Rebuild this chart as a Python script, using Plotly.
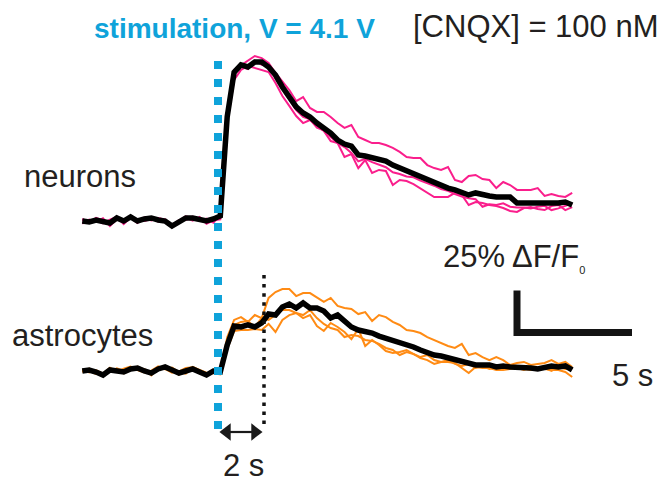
import numpy as np
import plotly.graph_objects as go

# ---- sampling grid (s), stimulation at t = 0 ----
T0 = -5.9
DT = 0.3

# ---- neurons: dF/F0 (%) ----
neuron_a = [0.5, -1.0, 1.8, 0.3, -2.0, 2.6, -0.8, 3.0, 0.6, 1.5, 2.4, -0.4, 1.0, -2.5, 0.2, 2.8, 1.6, 0.8, -0.6, 2.0,
            2.0, 64.0, 90.0, 92.9, 95.8, 98.2, 97.0, 94.0, 88.1, 82.7, 78.0, 71.4, 73.8, 67.3, 64.9, 64.9, 61.9, 58.3,
            55.4, 57.1, 50.0, 48.2, 46.4, 46.4, 45.2, 43.5, 41.1, 38.1, 37.5, 37.5, 33.3, 31.5, 30.4, 32.1, 24.4, 23.2,
            26.8, 27.4, 25.0, 24.4, 19.6, 23.2, 21.4, 18.5, 18.5, 18.5, 19.6, 14.9, 16.1, 14.9, 14.3, 16.7]
neuron_b = [-1.5, 0.8, -0.4, 1.6, -3.0, 1.0, 0.5, 1.8, -1.2, 2.2, 0.4, 1.4, -0.8, -3.6, -1.0, 2.0, 0.2, 2.4, -1.6, 0.4,
            1.0, 58.0, 84.0, 89.9, 92.3, 91.1, 89.9, 88.7, 82.1, 74.4, 68.5, 62.5, 58.3, 60.1, 56.5, 53.6, 47.6, 46.4,
            38.1, 39.9, 31.5, 36.3, 28.6, 30.4, 29.8, 21.4, 24.4, 23.8, 22.0, 19.6, 16.7, 14.3, 14.3, 14.3, 16.7, 15.5,
            9.5, 11.3, 10.7, 9.5, 8.9, 7.7, 6.0, 5.4, 7.7, 8.3, 7.1, 6.5, 8.9, 9.5, 6.5, 8.3]
neuron_c = [1.2, -0.5, 0.2, -1.4, 0.8, 2.4, -1.8, 2.0, 1.0, 0.0, 1.2, 1.8, 0.8, -2.6, 0.4, 0.6, 2.6, 0.0, 1.4, -1.0,
            3.5, 63.0, 88.0, 92.0, 90.5, 95.5, 93.0, 92.5, 85.0, 78.5, 72.0, 66.0, 62.0, 60.5, 55.5, 54.0, 50.0, 46.5,
            44.0, 40.5, 35.5, 37.0, 35.0, 33.5, 32.0, 29.0, 28.0, 26.5, 26.0, 24.0, 22.5, 21.0, 19.0, 18.0, 16.0, 14.5,
            13.5, 13.0, 8.5, 10.0, 9.5, 10.5, 8.5, 8.0, 8.0, 7.5, 8.5, 9.0, 6.5, 7.5, 9.0, 10.5]
neuron_mean = [0.0, -0.6, 0.6, 0.0, -1.2, 1.8, 0.0, 2.4, 0.0, 1.2, 1.8, 0.6, 0.0, -3.0, -0.6, 1.8, 1.8, 1.2, 0.0, 1.2,
               3.0, 62.0, 88.5, 92.9, 91.7, 94.6, 94.6, 91.7, 86.9, 79.8, 73.2, 67.9, 64.3, 61.9, 58.3, 55.4, 52.4,
               48.2, 45.8, 44.6, 39.3, 38.7, 37.5, 36.3, 35.7, 33.3, 31.5, 30.4, 28.6, 26.8, 25.0, 23.2, 21.4, 19.6,
               18.5, 16.7, 15.5, 16.7, 15.5, 14.9, 14.3, 14.3, 14.3, 10.7, 10.7, 10.1, 10.7, 10.1, 10.7, 10.7, 11.3, 9.5]

# ---- astrocytes: dF/F0 (%) ----
astro_a = [1.0, -0.8, 0.4, -1.6, 2.0, -0.4, 1.4, 2.6, 0.6, -0.8, 0.2, 2.8, 1.2, -1.0, -0.2, 1.8, 2.2, 0.0, -1.8, 0.8,
           -1.0, 20.0, 30.4, 32.1, 29.2, 33.3, 31.5, 43.5, 47.0, 48.8, 48.8, 44.6, 46.4, 46.4, 43.5, 41.1, 43.5, 38.7,
           37.5, 36.9, 33.9, 35.1, 29.8, 33.3, 32.1, 29.2, 27.4, 24.4, 23.8, 22.6, 20.2, 18.5, 16.7, 14.9, 13.7, 16.1,
           9.5, 10.7, 8.3, 6.5, 8.3, 6.5, 3.6, 4.8, 5.4, 3.6, 4.2, 4.8, 6.5, 4.2, 5.4, 2.4]
astro_b = [-0.6, 1.4, -1.0, -2.8, 0.8, 1.2, -1.4, 0.4, 2.6, 0.8, -2.0, 0.6, 2.8, 1.4, -2.2, 0.4, 0.8, -1.4, -2.8, 0.8,
           0.4, 17.0, 27.4, 29.2, 29.8, 26.2, 31.5, 30.4, 33.3, 36.3, 36.3, 34.5, 33.3, 36.3, 31.5, 28.0, 25.6, 24.4,
           20.2, 21.4, 20.8, 18.5, 17.9, 16.1, 13.7, 12.5, 9.5, 11.3, 10.1, 8.3, 9.5, 6.5, 5.4, 6.5, 4.2, 3.0,
           4.2, 1.8, 3.0, 1.2, 2.4, 1.2, 3.0, 1.8, 0.6, 2.4, 0.6, 1.8, 0.0, 2.4, 1.2, 1.8]
astro_c = [0.4, 0.2, -1.8, -1.2, -0.6, 1.6, 0.2, 2.0, 0.8, 1.2, -2.6, 1.8, 1.0, 2.0, -0.6, -1.6, 2.4, 0.6, -1.0, -1.4,
           -2.0, 13.0, 23.8, 24.4, 24.4, 25.0, 24.4, 28.0, 23.2, 30.4, 33.3, 34.5, 31.5, 33.3, 26.8, 23.8, 28.6, 26.2,
           23.2, 19.0, 25.0, 14.9, 18.5, 15.5, 11.9, 10.7, 11.3, 12.5, 10.1, 7.7, 6.5, 4.2, 5.4, 5.4, 4.8, 1.8,
           -1.2, 2.4, 1.8, 1.8, 0.6, 0.6, 1.2, 1.8, 1.2, 0.6, 1.8, 1.2, 0.6, 0.6, -0.6, -3.6]
astro_mean = [0.0, 0.6, -0.6, -2.4, 0.6, 0.0, -0.6, 1.2, 1.8, 0.0, -1.2, 1.2, 2.4, 0.6, -1.2, 0.0, 1.2, -0.6, -2.4, 0.0,
              -0.6, 15.5, 26.8, 26.2, 27.4, 26.2, 28.6, 33.9, 33.3, 38.1, 39.9, 37.5, 40.5, 37.5, 37.5, 35.7, 31.5,
              33.3, 29.8, 26.2, 24.4, 23.8, 22.6, 20.8, 19.6, 17.9, 17.3, 16.1, 14.3, 12.5, 10.7, 9.5, 8.9, 7.7,
              6.5, 5.4, 4.8, 3.6, 3.6, 3.6, 2.4, 3.0, 2.4, 2.4, 1.8, 1.8, 1.2, 2.4, 3.0, 2.4, 3.0, 0.6]

STIM_LABEL = "stimulation, V = 4.1 V"
DRUG_LABEL = "[CNQX] = 100 nM"
DELAY_S = 2          # onset delay of the astrocytic secondary rise
SCALE_T = 5          # time scale bar (s)
SCALE_F = 25         # amplitude scale bar (% dF/F0)

# ---- geometry ----
W, H = 664, 482
PX_PER_S = 23.0
PX_PER_PCT = 1.68
STIM_PX = 218.0          # x pixel of t = 0
NEURON_BASE_PX = 221.0   # y pixel of neuron 0 %
ASTRO_BASE_PX = 371.0    # y pixel of astrocyte 0 %
ASTRO_OFFSET = -(ASTRO_BASE_PX - NEURON_BASE_PX) / PX_PER_PCT

PINK = "#fa1e8c"
ORANGE = "#ff8b14"
BLUE = "#0fa3da"
INK = "#231f20"
FONT = "Liberation Sans, Arial, Helvetica, sans-serif"


def xs(px):
    return (px - STIM_PX) / PX_PER_S


def ys(py):
    return (NEURON_BASE_PX - py) / PX_PER_PCT


n = len(neuron_mean)
t = T0 + DT * np.arange(n)

fig = go.Figure()
for tr in (neuron_a, neuron_b, neuron_c):
    fig.add_trace(go.Scatter(x=t, y=tr, mode="lines", line=dict(color=PINK, width=2)))
fig.add_trace(go.Scatter(x=t, y=neuron_mean, mode="lines", line=dict(color="#000000", width=5.5)))
for tr in (astro_a, astro_b, astro_c):
    fig.add_trace(go.Scatter(x=t, y=np.array(tr) + ASTRO_OFFSET, mode="lines",
                             line=dict(color=ORANGE, width=2)))
fig.add_trace(go.Scatter(x=t, y=np.array(astro_mean) + ASTRO_OFFSET, mode="lines",
                         line=dict(color="#000000", width=5.5)))

# stimulation marker (blue dotted) and delay marker (black dotted)
fig.add_shape(type="line", x0=0, x1=0, y0=ys(61), y1=ys(430), xref="x", yref="y",
              line=dict(color=BLUE, width=8, dash="8px,10px"), layer="above")
fig.add_shape(type="line", x0=DELAY_S, x1=DELAY_S, y0=ys(275), y1=ys(424), xref="x", yref="y",
              line=dict(color="#111111", width=3.5, dash="3.5px,5.6px"), layer="above")

# scale bar
sb_x = 13.0
sb_y = ys(332.5)
fig.add_shape(type="path",
              path=f"M {sb_x},{sb_y + SCALE_F} L {sb_x},{sb_y} L {sb_x + SCALE_T},{sb_y}",
              xref="x", yref="y", line=dict(color="#141414", width=7))

# double-headed delay arrow: shaft plus two triangular heads
arrow_y = ys(432)
head_in = 8.5 / PX_PER_S   # marker centre sits inside its tip
fig.add_shape(type="line", x0=xs(226), x1=xs(255), y0=arrow_y, y1=arrow_y, xref="x", yref="y",
              line=dict(color="#1a1a1a", width=2.2))
fig.add_trace(go.Scatter(x=[0.02 + head_in, DELAY_S - 0.02 - head_in], y=[arrow_y, arrow_y],
                         mode="markers", cliponaxis=False,
                         marker=dict(symbol=["triangle-left", "triangle-right"], size=15,
                                     color="#1a1a1a", line=dict(width=0))))


def label(text, cx, baseline, size=31, color=INK, bold=False):
    if bold:
        text = f"<b>{text}</b>"
    fig.add_annotation(x=cx / W, y=1 - (baseline - 0.3465 * size) / H, xref="paper", yref="paper",
                       text=text, showarrow=False, xanchor="center", yanchor="middle",
                       font=dict(family=FONT, size=size, color=color))


label(STIM_LABEL, 234.2, 38.3, size=28, color=BLUE, bold=True)
label(DRUG_LABEL, 536.0, 37.3)
label("neurons", 80.0, 187.3)
label("astrocytes", 82.0, 346.7)
label("25% ΔF/F<sub><span style='font-size:11px'>0</span></sub>", 514.0, 268.5)
label(f"{SCALE_T} s", 632.4, 386.0)
label(f"{DELAY_S} s", 243.5, 476.0)

fig.update_layout(
    width=W, height=H, margin=dict(l=0, r=0, t=0, b=0),
    paper_bgcolor="white", plot_bgcolor="white", showlegend=False,
    xaxis=dict(range=[xs(0), xs(W)], visible=False, fixedrange=True),
    yaxis=dict(range=[ys(H), ys(0)], visible=False, fixedrange=True),
)
fig.write_html("out.html", config={"displayModeBar": False})
